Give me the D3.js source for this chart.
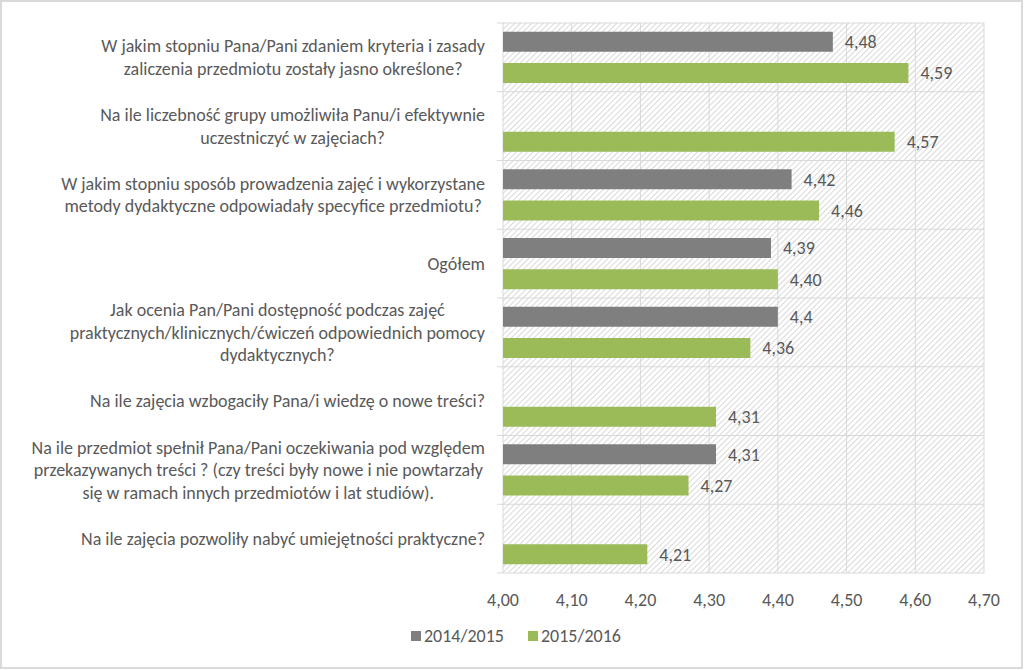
<!DOCTYPE html>
<html>
<head>
<meta charset="utf-8">
<script src="https://cdn.jsdelivr.net/npm/d3@7"></script>
<style>
  html, body { margin: 0; padding: 0; background: #fff; }
  svg { display: block; }
  text { font-family: Carlito, Calibri, Lato, "Noto Sans", sans-serif; fill: #595959; }
</style>
</head>
<body>
<svg id="chart" width="1024" height="670"></svg>
<script>
const categories = [
  ["W jakim stopniu Pana/Pani zdaniem kryteria i zasady", "zaliczenia przedmiotu zostały jasno określone?"],
  ["Na ile liczebność grupy umożliwiła Panu/i efektywnie", "uczestniczyć w zajęciach?"],
  ["W jakim stopniu sposób prowadzenia zajęć i wykorzystane", "metody dydaktyczne odpowiadały specyfice przedmiotu?"],
  ["Ogółem"],
  ["Jak ocenia Pan/Pani dostępność podczas zajęć", "praktycznych/klinicznych/ćwiczeń odpowiednich pomocy", "dydaktycznych?"],
  ["Na ile zajęcia wzbogaciły Pana/i wiedzę o nowe treści?"],
  ["Na ile przedmiot spełnił Pana/Pani oczekiwania pod względem", "przekazywanych treści ? (czy treści były nowe i nie powtarzały", "się w ramach innych przedmiotów i lat studiów)."],
  ["Na ile zajęcia pozwoliły nabyć umiejętności praktyczne?"]
];
const seriesNames = ["2014/2015", "2015/2016"];
const values2014 = [4.48, null, 4.42, 4.39, 4.40, null, 4.31, null];
const values2015 = [4.59, 4.57, 4.46, 4.40, 4.36, 4.31, 4.27, 4.21];
const labels2014 = ["4,48", null, "4,42", "4,39", "4,4", null, "4,31", null];
const labels2015 = ["4,59", "4,57", "4,46", "4,40", "4,36", "4,31", "4,27", "4,21"];
const xTicks = [4.0, 4.1, 4.2, 4.3, 4.4, 4.5, 4.6, 4.7];
const xTickLabels = ["4,00", "4,10", "4,20", "4,30", "4,40", "4,50", "4,60", "4,70"];
const colors = ["#7f7f7f", "#9bbb59"];

const svg = d3.select("#chart");
const W = 1024, H = 670;
const plot = { left: 503, right: 984, top: 23, bottom: 573 };
const FS = 18;

// outer border
svg.append("rect").attr("x", 1).attr("y", 1).attr("width", W - 3).attr("height", H - 3)
  .attr("fill", "#fff").attr("stroke", "#d9d9d9").attr("stroke-width", 2);

// hatch pattern
const defs = svg.append("defs");
const pat = defs.append("pattern").attr("id", "hatch").attr("patternUnits", "userSpaceOnUse")
  .attr("width", 4).attr("height", 4).attr("patternTransform", "rotate(45)");
pat.append("rect").attr("width", 4).attr("height", 4).attr("fill", "#fff");
pat.append("line").attr("x1", 0).attr("y1", 0).attr("x2", 0).attr("y2", 4)
  .attr("stroke", "#d2d2d2").attr("stroke-width", 1.7);

const x = d3.scaleLinear().domain([4.0, 4.7]).range([plot.left, plot.right]);
const y = d3.scaleBand().domain(d3.range(categories.length)).range([plot.top, plot.bottom]).padding(0);
const sub = d3.scaleBand().domain([0, 1]).range([0, y.bandwidth()]).paddingInner(0.36).paddingOuter(0.28);

svg.append("rect").attr("x", plot.left).attr("y", plot.top)
  .attr("width", plot.right - plot.left).attr("height", plot.bottom - plot.top)
  .attr("fill", "url(#hatch)");

// vertical gridlines
svg.append("g").selectAll("line").data(xTicks).join("line")
  .attr("x1", d => x(d)).attr("x2", d => x(d))
  .attr("y1", plot.top).attr("y2", plot.bottom)
  .attr("stroke", "#d9d9d9").attr("stroke-width", 1);

// horizontal band lines
const bandEdges = d3.range(categories.length + 1).map(i => i < categories.length ? y(i) : plot.bottom);
svg.append("g").selectAll("line").data(bandEdges).join("line")
  .attr("x1", plot.left - 6).attr("x2", plot.right)
  .attr("y1", d => d).attr("y2", d => d)
  .attr("stroke", "#d9d9d9").attr("stroke-width", 1);

// bars
const series = [values2014, values2015];
const seriesLabels = [labels2014, labels2015];
series.forEach((vals, s) => {
  const g = svg.append("g");
  const data = vals.map((v, i) => ({ v, i, label: seriesLabels[s][i] })).filter(d => d.v != null);
  g.selectAll("rect").data(data).join("rect")
    .attr("x", x(4.0))
    .attr("y", d => y(d.i) + sub(s))
    .attr("width", d => x(d.v) - x(4.0))
    .attr("height", sub.bandwidth())
    .attr("fill", colors[s]);
  g.selectAll("text").data(data).join("text")
    .attr("x", d => x(d.v) + 12)
    .attr("y", d => y(d.i) + sub(s) + sub.bandwidth() / 2)
    .attr("dy", "0.35em")
    .attr("font-size", FS)
    .text(d => d.label);
});

// category labels
const lineH = 22.5;
const labelRight = 485;
categories.forEach((lines, i) => {
  const cy = y(i) + y.bandwidth() / 2;
  const t = svg.append("text").attr("font-size", FS).attr("text-anchor", "middle");
  const spans = lines.map((ln, k) => t.append("tspan")
    .attr("y", cy + (k - (lines.length - 1) / 2) * lineH)
    .attr("dy", "0.35em").text(ln));
  const maxW = d3.max(spans, sp => sp.node().getComputedTextLength());
  spans.forEach(sp => sp.attr("x", labelRight - maxW / 2));
});

// x axis labels
svg.append("g").selectAll("text").data(xTicks).join("text")
  .attr("x", d => x(d)).attr("y", 600).attr("dy", "0.35em")
  .attr("text-anchor", "middle").attr("font-size", FS)
  .text((d, i) => xTickLabels[i]);

// legend
const legend = svg.append("g");
const legendX = [411, 528];
seriesNames.forEach((name, s) => {
  legend.append("rect").attr("x", legendX[s]).attr("y", 631).attr("width", 10).attr("height", 10)
    .attr("fill", colors[s]);
  legend.append("text").attr("x", legendX[s] + 13).attr("y", 636).attr("dy", "0.35em")
    .attr("font-size", FS).text(name);
});
</script>
</body>
</html>
